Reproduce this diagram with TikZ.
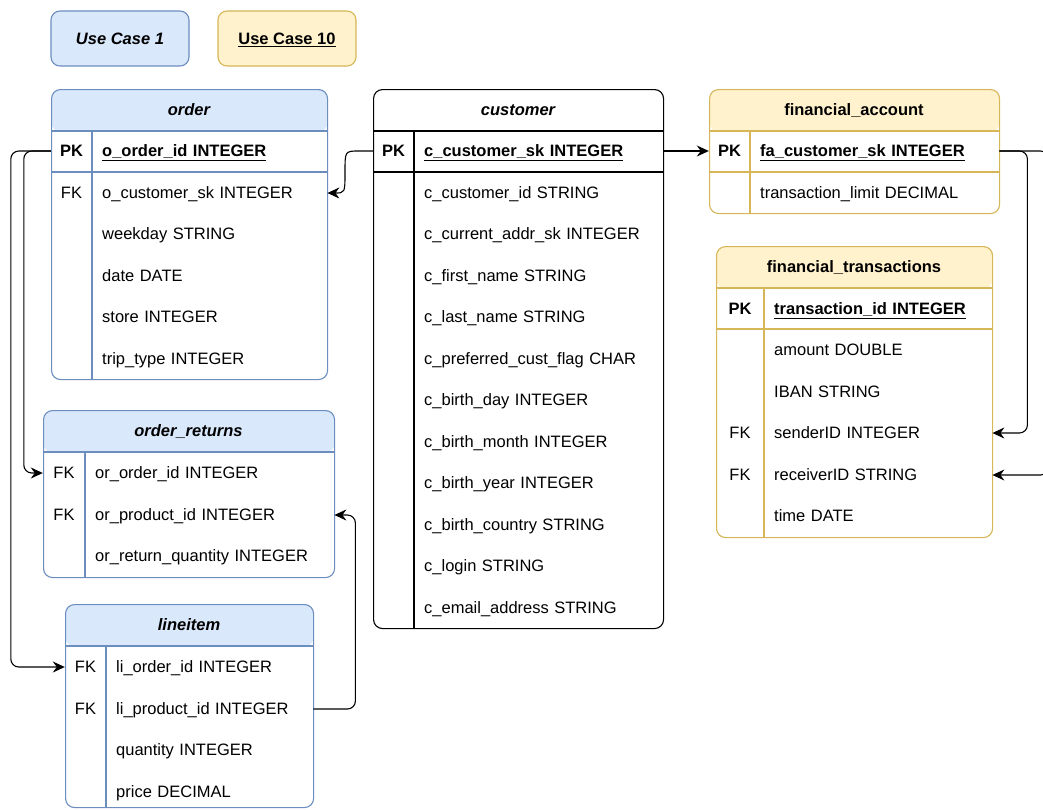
\documentclass[tikz,border=0pt]{standalone}
\usepackage{fontspec}
\setmainfont{Liberation Sans}
\usetikzlibrary{arrows.meta}
\definecolor{bfill}{HTML}{DAE8FC}
\definecolor{bline}{HTML}{6C8EBF}
\definecolor{yfill}{HTML}{FFF2CC}
\definecolor{yline}{HTML}{D6B656}
\begin{document}
\begin{tikzpicture}[x=1pt,y=-1pt,
  every node/.style={font=\fontsize{16.5pt}{20pt}\selectfont, text=black,
    text height=11.8pt, text depth=0pt},
  tbl/.style 2 args={draw=#1, fill=white, line width=1.1pt, rounded corners=9pt,
    anchor=north west, inner sep=0pt,
    path picture={\fill[#2] (path picture bounding box.north west)
      rectangle ([yshift=-42pt]path picture bounding box.north east);}},
  ucbox/.style 2 args={draw=#1, fill=#2, line width=1.1pt, rounded corners=9pt,
    minimum width=138pt, minimum height=55pt, inner sep=0pt},
  title/.style={inner sep=0pt, font=\fontsize{16.5pt}{20pt}\selectfont\bfseries},
  key/.style={minimum width=#1, minimum height=41pt, inner sep=0pt},
  fld/.style={anchor=west, inner xsep=10pt, inner ysep=0pt, text width=#1, align=left},
  rule/.style={draw=#1, line width=1.1pt},
  conn/.style={draw=black, line width=1.1pt, rounded corners=8pt,
    -{Stealth[length=12pt,width=11pt,inset=4pt]}}
]
\clip (0,0) rectangle (1043,809);

% use case tags
\node[ucbox={bline}{bfill}] (uc1) at (120,38.5) {\bfseries\itshape Use Case 1};
\node[ucbox={yline}{yfill}] (uc10) at (287,38.5) {\bfseries\underline{Use Case 10}};

% ---------- order ----------
\node[tbl={bline}{bfill}, minimum width=276pt, minimum height=290pt] (order) at (51,89) {};
\node[title] (order-t) at (189,110) {\itshape order};
\draw[rule=bline] (51,131) -- (327,131);
\draw[rule=bline] (51,172) -- (327,172);
\draw[rule=bline] (92,131) -- (92,379);
\node[key=41pt] (o-k1) at (71.5,151) {\bfseries PK};
\node[fld=215pt] (o-f1) at (92,151) {\bfseries\underline{o\_order\_id INTEGER}};
\node[key=41pt] (o-k2) at (71.5,193) {FK};
\node[fld=215pt] (o-f2) at (92,193) {o\_customer\_sk INTEGER};
\node[fld=215pt] (o-f3) at (92,234) {weekday STRING};
\node[fld=215pt] (o-f4) at (92,276) {date DATE};
\node[fld=215pt] (o-f5) at (92,317) {store INTEGER};
\node[fld=215pt] (o-f6) at (92,359) {trip\_type INTEGER};

% ---------- customer ----------
\node[tbl={black}{white}, minimum width=290pt, minimum height=539pt] (customer) at (373,89) {};
\node[title] (c-t) at (518,110) {\itshape customer};
\draw[rule=black] (373,131) -- (663,131);
\draw[rule=black] (373,172) -- (663,172);
\draw[rule=black] (414,131) -- (414,628);
\node[key=41pt] (c-k1) at (393.5,151) {\bfseries PK};
\node[fld=229pt] (c-f1) at (414,151) {\bfseries\underline{c\_customer\_sk INTEGER}};
\node[fld=229pt] (c-f2) at (414,193) {c\_customer\_id STRING};
\node[fld=229pt] (c-f3) at (414,234) {c\_current\_addr\_sk INTEGER};
\node[fld=229pt] (c-f4) at (414,276) {c\_first\_name STRING};
\node[fld=229pt] (c-f5) at (414,317) {c\_last\_name STRING};
\node[fld=229pt] (c-f6) at (414,359) {c\_preferred\_cust\_flag CHAR};
\node[fld=229pt] (c-f7) at (414,400) {c\_birth\_day INTEGER};
\node[fld=229pt] (c-f8) at (414,442) {c\_birth\_month INTEGER};
\node[fld=229pt] (c-f9) at (414,483) {c\_birth\_year INTEGER};
\node[fld=229pt] (c-f10) at (414,525) {c\_birth\_country STRING};
\node[fld=229pt] (c-f11) at (414,566) {c\_login STRING};
\node[fld=229pt] (c-f12) at (414,608) {c\_email\_address STRING};

% ---------- financial_account ----------
\node[tbl={yline}{yfill}, minimum width=290pt, minimum height=124pt] (finacc) at (709,89) {};
\node[title] (fa-t) at (854,110) {financial\_account};
\draw[rule=yline] (709,131) -- (999,131);
\draw[rule=yline] (709,172) -- (999,172);
\draw[rule=yline] (750,131) -- (750,213);
\node[key=41pt] (fa-k1) at (729.5,151) {\bfseries PK};
\node[fld=229pt] (fa-f1) at (750,151) {\bfseries\underline{fa\_customer\_sk INTEGER}};
\node[fld=229pt] (fa-f2) at (750,193) {transaction\_limit DECIMAL};

% ---------- financial_transactions ----------
\node[tbl={yline}{yfill}, minimum width=276pt, minimum height=291pt] (fintr) at (716,246) {};
\node[title] (ft-t) at (854,267) {financial\_transactions};
\draw[rule=yline] (716,288) -- (992,288);
\draw[rule=yline] (716,329) -- (992,329);
\draw[rule=yline] (764,288) -- (764,537);
\node[key=48pt] (ft-k1) at (740,309) {\bfseries PK};
\node[fld=208pt] (ft-f1) at (764,309) {\bfseries\underline{transaction\_id INTEGER}};
\node[fld=208pt] (ft-f2) at (764,350) {amount DOUBLE};
\node[fld=208pt] (ft-f3) at (764,392) {IBAN STRING};
\node[key=48pt] (ft-k4) at (740,433) {FK};
\node[fld=208pt] (ft-f4) at (764,433) {senderID INTEGER};
\node[key=48pt] (ft-k5) at (740,475) {FK};
\node[fld=208pt] (ft-f5) at (764,475) {receiverID STRING};
\node[fld=208pt] (ft-f6) at (764,516) {time DATE};

% ---------- order_returns ----------
\node[tbl={bline}{bfill}, minimum width=291pt, minimum height=167pt] (oret) at (43,410) {};
\node[title] (or-t) at (188.5,431) {\itshape order\_returns};
\draw[rule=bline] (43,452) -- (334,452);
\draw[rule=bline] (85,452) -- (85,577);
\node[key=42pt] (or-k1) at (64,473) {FK};
\node[fld=229pt] (or-f1) at (85,473) {or\_order\_id INTEGER};
\node[key=42pt] (or-k2) at (64,515) {FK};
\node[fld=229pt] (or-f2) at (85,515) {or\_product\_id INTEGER};
\node[fld=229pt] (or-f3) at (85,556) {or\_return\_quantity INTEGER};

% ---------- lineitem ----------
\node[tbl={bline}{bfill}, minimum width=248pt, minimum height=203pt] (lineitem) at (65,604) {};
\node[title] (li-t) at (189,625) {\itshape lineitem};
\draw[rule=bline] (65,646) -- (313,646);
\draw[rule=bline] (106,646) -- (106,807);
\node[key=41pt] (li-k1) at (85.5,667) {FK};
\node[fld=187pt] (li-f1) at (106,667) {li\_order\_id INTEGER};
\node[key=41pt] (li-k2) at (85.5,709) {FK};
\node[fld=187pt] (li-f2) at (106,709) {li\_product\_id INTEGER};
\node[fld=187pt] (li-f3) at (106,750) {quantity INTEGER};
\node[fld=187pt] (li-f4) at (106,792) {price DECIMAL};

% ---------- relationships ----------
\draw[conn] (o-k1.west) -- ++(-40,0) |- (li-k1.west);
\draw[conn] (o-k1.west) -- ++(-27,0) |- (or-k1.west);
\draw[conn, sharp corners] (c-k1.west) -- (359,151) .. controls (345,151) .. (345,172)
  .. controls (345,193) .. (o-f2.east);
\draw[conn] (c-f1.east) -- (fa-k1.west);
\fill (683,149.6) rectangle (688,152.4);
\draw[conn] (fa-f1.east) -- ++(28,0) |- (ft-f4.east);
\draw[conn] (fa-f1.east) -- ++(49,0) |- (ft-f5.east);
\draw[conn] (li-f2.east) -- ++(42,0) |- (or-f2.east);
\end{tikzpicture}
\end{document}
